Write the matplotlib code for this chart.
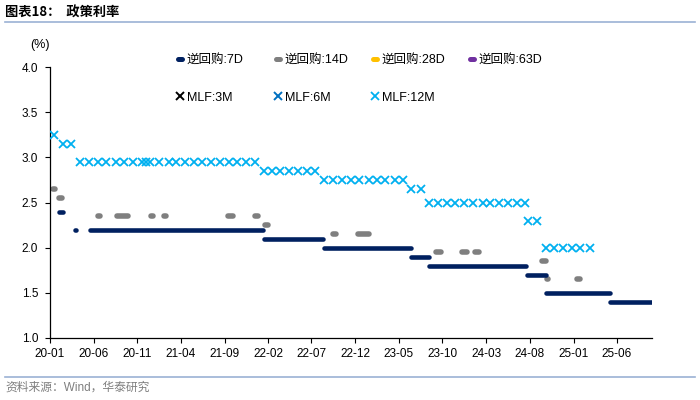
import matplotlib
matplotlib.use("Agg")
import matplotlib.pyplot as plt
from matplotlib.lines import Line2D
import pandas as pd

plt.rcParams['font.family'] = ['Liberation Sans', 'Noto Sans CJK SC', 'DejaVu Sans']

# ---------------- data ----------------
# 7D reverse repo: periods of (almost) daily operations at a given rate
rr7_start = ['2020-02-03', '2020-03-29', '2020-05-18', '2022-01-17', '2022-08-15',
             '2023-06-13', '2023-08-15', '2024-07-22', '2024-09-27', '2025-05-08']
rr7_end = ['2020-02-17', '2020-03-31', '2022-01-14', '2022-08-12', '2023-06-12',
           '2023-08-14', '2024-07-19', '2024-09-26', '2025-05-07', '2025-09-30']
rr7_rate = [2.40, 2.20, 2.20, 2.10, 2.00, 1.90, 1.80, 1.70, 1.50, 1.40]

# 14D reverse repo
rr14_start = ['2020-01-13', '2020-02-03', '2020-06-15', '2020-08-20', '2020-12-18',
              '2021-02-01', '2021-09-14', '2021-12-16', '2022-01-21', '2022-09-13',
              '2022-12-12', '2023-09-08', '2023-12-08', '2024-01-23', '2024-09-14',
              '2024-09-28', '2025-01-14']
rr14_end = ['2020-01-20', '2020-02-12', '2020-06-22', '2020-09-30', '2020-12-25',
            '2021-02-10', '2021-09-30', '2021-12-28', '2022-01-30', '2022-09-26',
            '2023-01-18', '2023-09-25', '2023-12-25', '2024-02-07', '2024-09-25',
            '2024-10-02', '2025-01-24']
rr14_rate = [2.65, 2.55, 2.35, 2.35, 2.35, 2.35, 2.35, 2.35, 2.25, 2.15,
             2.15, 1.95, 1.95, 1.95, 1.85, 1.65, 1.65]

# 28D / 63D reverse repo, MLF 3M / 6M: no observations in the window
rr28_dates, rr28_rate = [], []
rr63_dates, rr63_rate = [], []
mlf3_dates, mlf3_rate = [], []
mlf6_dates, mlf6_rate = [], []

# MLF 12M
mlf12_dates = [
    '2020-01-15', '2020-02-17', '2020-03-16', '2020-04-15', '2020-05-15', '2020-06-15',
    '2020-07-15', '2020-08-17', '2020-09-15', '2020-10-15', '2020-11-16', '2020-11-30',
    '2020-12-15',
    '2021-01-15', '2021-02-18', '2021-03-15', '2021-04-15', '2021-05-17', '2021-06-15',
    '2021-07-15', '2021-08-16', '2021-09-15', '2021-10-15', '2021-11-15', '2021-12-15',
    '2022-01-17', '2022-02-15', '2022-03-15', '2022-04-15', '2022-05-16', '2022-06-15',
    '2022-07-15',
    '2022-08-15', '2022-09-15', '2022-10-17', '2022-11-15', '2022-12-15',
    '2023-01-17', '2023-02-15', '2023-03-15', '2023-04-17', '2023-05-15',
    '2023-06-15', '2023-07-17',
    '2023-08-15', '2023-09-15', '2023-10-16', '2023-11-15', '2023-12-15',
    '2024-01-15', '2024-02-18', '2024-03-15', '2024-04-15', '2024-05-15', '2024-06-17',
    '2024-07-15',
    '2024-07-25', '2024-08-26',
    '2024-09-25', '2024-10-25', '2024-11-25', '2024-12-25', '2025-01-24', '2025-02-25',
]
mlf12_rate = [
    3.25, 3.15, 3.15, 2.95, 2.95, 2.95, 2.95, 2.95, 2.95, 2.95, 2.95, 2.95, 2.95,
    2.95, 2.95, 2.95, 2.95, 2.95, 2.95, 2.95, 2.95, 2.95, 2.95, 2.95, 2.95,
    2.85, 2.85, 2.85, 2.85, 2.85, 2.85, 2.85,
    2.75, 2.75, 2.75, 2.75, 2.75, 2.75, 2.75, 2.75, 2.75, 2.75,
    2.65, 2.65,
    2.50, 2.50, 2.50, 2.50, 2.50, 2.50, 2.50, 2.50, 2.50, 2.50, 2.50, 2.50,
    2.30, 2.30,
    2.00, 2.00, 2.00, 2.00, 2.00, 2.00,
]

tick_labels = ['20-01', '20-06', '20-11', '21-04', '21-09', '22-02', '22-07',
               '22-12', '23-05', '23-10', '24-03', '24-08', '25-01', '25-06']
y_ticks = [1.0, 1.5, 2.0, 2.5, 3.0, 3.5, 4.0]

# ---------------- styles ----------------
C7 = '#002060'
C14 = '#7F7F7F'
C28 = '#FFC000'
C63 = '#7030A0'
CM3 = '#000000'
CM6 = '#0070C0'
CM12 = '#00B0F0'

fig = plt.figure(figsize=(7, 4), dpi=100)
ax = fig.add_axes([50 / 700, 1 - 338 / 400, 602 / 700, (338 - 67) / 400])

lc7 = ax.hlines(rr7_rate, pd.to_datetime(rr7_start), pd.to_datetime(rr7_end),
                colors=C7, lw=3.3, zorder=3)
lc7.set_capstyle('round')
lc14 = ax.hlines(rr14_rate, pd.to_datetime(rr14_start), pd.to_datetime(rr14_end),
                 colors=C14, lw=4.0, zorder=2)
lc14.set_capstyle('round')

h7, = ax.plot([], [], color=C7, lw=3.6, solid_capstyle='round', label='逆回购:7D')
h14, = ax.plot([], [], color=C14, lw=3.6, solid_capstyle='round', label='逆回购:14D')
h28, = ax.plot(pd.to_datetime(rr28_dates), rr28_rate, color=C28, lw=3.6,
               solid_capstyle='round', label='逆回购:28D')
h63, = ax.plot(pd.to_datetime(rr63_dates), rr63_rate, color=C63, lw=3.6,
               solid_capstyle='round', label='逆回购:63D')
hm3, = ax.plot(pd.to_datetime(mlf3_dates), mlf3_rate, ls='none', marker='x',
               ms=5.5, mew=1.4, color=CM3, label='MLF:3M')
hm6, = ax.plot(pd.to_datetime(mlf6_dates), mlf6_rate, ls='none', marker='x',
               ms=5.5, mew=1.4, color=CM6, label='MLF:6M')
hm12, = ax.plot(pd.to_datetime(mlf12_dates), mlf12_rate, ls='none', marker='x',
                ms=5.3, mew=1.3, color=CM12, label='MLF:12M', zorder=4)

# axes formatting
ax.set_ylim(1.0, 4.0)
ax.set_yticks(y_ticks)
ax.set_yticklabels([f'{v:.1f}' for v in y_ticks])
ax.set_xlim(pd.Timestamp('2020-01-01'), pd.Timestamp('2025-10-01'))
tick_dates = [pd.Timestamp('20' + t[:2] + '-' + t[3:] + '-01') for t in tick_labels]
ax.set_xticks(tick_dates)
ax.set_xticklabels(tick_labels)
for s in ['top', 'right']:
    ax.spines[s].set_visible(False)
for s in ['left', 'bottom']:
    ax.spines[s].set_color('black')
    ax.spines[s].set_linewidth(0.9)
ax.tick_params(axis='both', direction='out', length=3.5, width=0.8, labelsize=8.5,
               colors='black')
ax.tick_params(axis='y', pad=5)

# legend: one small legend per column so columns sit at fixed positions
columns = [([h7, hm3], 180), ([h14, hm6], 278), ([h28, hm12], 375), ([h63], 472)]
for hs, xc in columns:
    fig.legend(handles=hs, labels=[h.get_label() for h in hs],
               ncol=1, loc='upper left', bbox_to_anchor=((xc - 2.2) / 700, 1 - 54 / 400),
               bbox_transform=fig.transFigure, frameon=False, fontsize=9,
               handlelength=0.35, handletextpad=0.35,
               labelspacing=2.05, borderpad=0, borderaxespad=0)

# header / footer
fig.text(5 / 700, 1 - 13 / 400, '图表18：  政策利率', fontsize=9.5, fontweight='bold',
         va='center', ha='left', family=['Noto Sans CJK SC'])
fig.add_artist(Line2D([5 / 700, 695 / 700], [1 - 22 / 400] * 2, color='#9BB1D4', lw=1.2))
fig.add_artist(Line2D([5 / 700, 695 / 700], [1 - 377 / 400] * 2, color='#9BB1D4', lw=1.2))
fig.text(5 / 700, 1 - 388 / 400, '资料来源：Wind，华泰研究', fontsize=8.5, color='#7F7F7F',
         va='center', ha='left')
fig.text(40 / 700, 1 - 45 / 400, '(%)', fontsize=9, va='center', ha='center')

fig.savefig('out.png', dpi=100)
